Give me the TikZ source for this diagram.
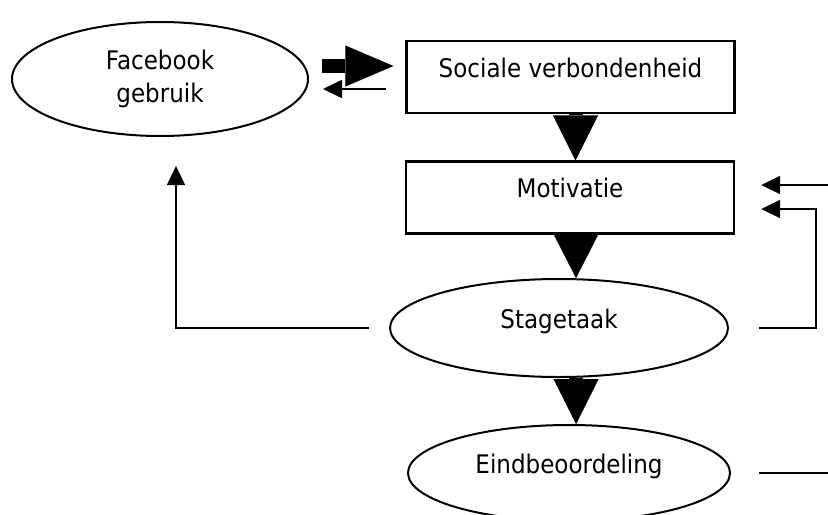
\documentclass[tikz,border=0pt]{standalone}
\usepackage{fontspec}
\setmainfont{DejaVu Sans}[FakeStretch=0.9]
\usetikzlibrary{arrows.meta,shapes.geometric}

\begin{document}
\begin{tikzpicture}[x=0.5pt, y=-0.5pt,
    font=\fontsize{12.8}{16.5}\selectfont,
    blok/.style={draw, line width=1.2pt, inner sep=0pt,
      minimum width=164pt, minimum height=36pt,
      text height=9.5pt, text depth=9.5pt},
    ovaal/.style={ellipse, draw, line width=1pt, inner sep=0pt},
    regel/.style={text height=9.5pt, text depth=9.5pt},
    dikpijl/.style 2 args={line width=7pt,
      -{Triangle[length=#1, width=#2, line width=0.01pt]}},
    dunpijl/.style={line width=0.85pt, -{Triangle[length=9.5pt, width=9pt]}},
    lijn/.style={line width=0.85pt}
  ]
          \useasboundingbox (0,0) rectangle (828,514);

          % nodes
          \node[ovaal, minimum width=148pt, minimum height=57pt, align=center]
              (fb) at (160,79) {Facebook\\gebruik};
          \node[blok] (soc) at (570.5,77) {Sociale verbondenheid};
          \node[blok] (mot) at (570,197.5) {Motivatie};
          \node[ovaal, regel, minimum width=169pt, minimum height=49pt]
              (stage) at (559,328) {Stagetaak};
          \node[ovaal, regel, minimum width=161pt, minimum height=48pt]
              (eind) at (569,473) {Eindbeoordeling};

          % free ends at the right edge
          \coordinate (rand) at (828,185);
          \coordinate (uit) at (828,474);

          % Facebook <-> sociale verbondenheid
          \draw[dikpijl={24pt}{20.5pt}, shorten <=6.5pt, shorten >=6pt]
              ([yshift=6.5pt]fb.east) -- ([yshift=6.5pt]fb.east -| soc.west);
          \draw[dunpijl, shorten <=9.5pt, shorten >=7pt]
              ([yshift=-6pt]soc.west) -- ([yshift=-6pt]soc.west -| fb.east);

          % main chain
          \draw[dikpijl={22.5pt}{22.5pt}]
              ([xshift=2.5pt]soc.south) -- ([xshift=2.5pt]soc.south |- mot.north);
          \draw[dikpijl={22pt}{22.5pt}]
              ([xshift=3pt]mot.south) -- ([xshift=3pt]mot.south |- stage.north);
          \draw[dikpijl={22.5pt}{22.5pt}]
              ([xshift=8.5pt]stage.south) -- ([xshift=8.5pt]stage.south |- eind.north);

          % feedback
          \draw[dunpijl] ([xshift=-10pt]stage.west)
              -| ([xshift=8pt,yshift=-14.5pt]fb.south);
          \draw[dunpijl] ([xshift=15pt]stage.east) -- ++(28.5pt,0)
              |- ([xshift=13pt,yshift=-5.75pt]mot.east);
          \draw[dunpijl] (rand) -- ([xshift=13pt]mot.east |- rand);
          \draw[lijn] ([xshift=14pt]eind.east) -- ([xshift=14pt]eind.east -| uit);

        \end{tikzpicture}
\end{document}
